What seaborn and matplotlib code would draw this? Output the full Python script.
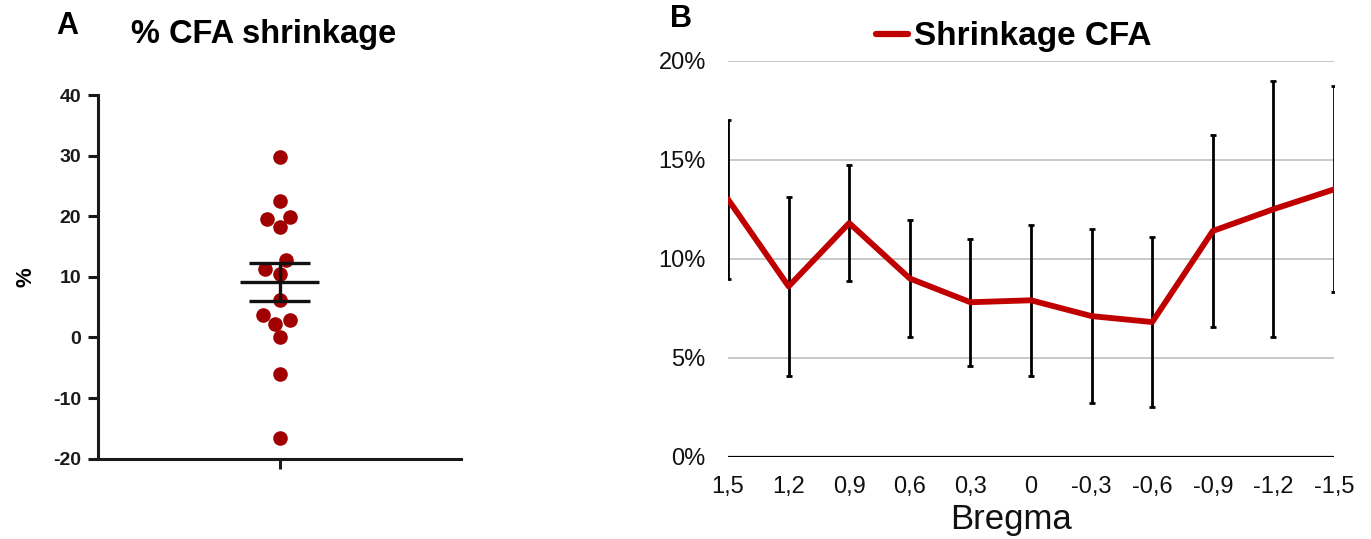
import numpy as np
import pandas as pd
import matplotlib
matplotlib.use("Agg")
import matplotlib.pyplot as plt
from matplotlib.lines import Line2D
from matplotlib.ticker import FuncFormatter
import seaborn as sns

# Panel A: per-animal CFA shrinkage (%)
shrinkage_values = [29.8, 22.5, 19.6, 19.9, 18.2, 12.7, 10.5, 11.3,
                    6.1, 2.8, 3.7, 2.3, 0.0, -6.0, -16.6]

# Panel B: shrinkage along the rostro-caudal axis
bregma_labels = ["1,5", "1,2", "0,9", "0,6", "0,3", "0",
                 "-0,3", "-0,6", "-0,9", "-1,2", "-1,5"]
shrinkage_mean = [13.0, 8.6, 11.8, 9.0, 7.8, 7.9, 7.1, 6.8, 11.4, 12.5, 13.5]
shrinkage_err = [4.0, 4.5, 2.95, 2.95, 3.2, 3.8, 4.4, 4.3, 4.85, 6.45, 5.2]

sns.set_theme(style="white")
plt.rcParams["font.family"] = ["Liberation Sans", "DejaVu Sans"]
plt.rcParams["axes.unicode_minus"] = False
for key in ("text.color", "axes.labelcolor", "xtick.color", "ytick.color"):
    plt.rcParams[key] = "black"

W, H = 1371, 539
fig = plt.figure(figsize=(W / 100, H / 100), dpi=100)
fig.patch.set_facecolor("white")

dot_color = "#a00000"
line_color = "#c00000"

# ---------------- Panel A ----------------
axA = fig.add_axes([98 / W, (H - 458.7) / H, (461 - 98) / W, (458.7 - 95) / H])
dfA = pd.DataFrame({"group": ["CFA"] * len(shrinkage_values),
                    "value": shrinkage_values})
sns.swarmplot(data=dfA, x="group", y="value", color=dot_color, size=10.5,
              linewidth=0, ax=axA, zorder=2)

vals = np.asarray(shrinkage_values)
mean_a = vals.mean()
sem_a = vals.std(ddof=1) / np.sqrt(len(vals))
axA.hlines(mean_a, -0.11, 0.11, color="#111111", lw=2.4, zorder=4)
axA.hlines([mean_a - sem_a, mean_a + sem_a], -0.083, 0.083,
           color="#111111", lw=2.4, zorder=4)
axA.vlines(0, mean_a - sem_a, mean_a + sem_a, color="#111111", lw=2.4, zorder=4)

axA.set_xlim(-0.5, 0.5)
axA.set_ylim(-20, 40)
axA.set_yticks(np.arange(-20, 41, 10))
axA.set_xticks([0])
axA.set_xticklabels([""])
axA.set_xlabel("")
axA.set_ylabel("%", fontsize=16, fontweight="bold", labelpad=12)
for side in ("top", "right"):
    axA.spines[side].set_visible(False)
for side in ("left", "bottom"):
    axA.spines[side].set_linewidth(2.2)
    axA.spines[side].set_color("#1a1a1a")
axA.tick_params(axis="both", length=7, width=2.2, color="#1a1a1a",
                direction="out", pad=5, left=True, bottom=True)
for lab in axA.get_yticklabels():
    lab.set_fontsize(14)
    lab.set_fontweight("bold")
    lab.set_color("#1a1a1a")
fig.text(264 / W, 1 - 34 / H, "% CFA shrinkage", fontsize=23.5,
         fontweight="bold", ha="center", va="center")
fig.text(67 / W, 1 - 26 / H, "A", fontsize=22, fontweight="bold",
         ha="center", va="center")

# ---------------- Panel B ----------------
axB = fig.add_axes([728 / W, (H - 456.7) / H, (1334 - 728) / W, (456.7 - 60.7) / H])
pos = np.arange(len(bregma_labels))
dfB = pd.DataFrame({"pos": pos, "mean": shrinkage_mean, "err": shrinkage_err})

axB.errorbar(dfB["pos"], dfB["mean"], yerr=dfB["err"], fmt="none",
             ecolor="black", elinewidth=2.0, capsize=2.2, capthick=2.0, zorder=3)
sns.lineplot(data=dfB, x="pos", y="mean", color=line_color, lw=4.2,
             ax=axB, zorder=4, legend=False)

axB.set_xlim(0, len(bregma_labels) - 1)
axB.set_ylim(0, 20)
axB.set_yticks([0, 5, 10, 15, 20])
axB.yaxis.set_major_formatter(FuncFormatter(lambda v, p: f"{v:.0f}%"))
axB.set_xticks(pos)
axB.set_xticklabels(bregma_labels)
axB.grid(axis="y", color="#bfbfbf", lw=1.2)
axB.grid(axis="x", visible=False)
axB.axhline(0, color="black", lw=1.6, zorder=2)
for side in ("top", "right", "left", "bottom"):
    axB.spines[side].set_visible(False)
axB.tick_params(axis="y", length=0, pad=16, labelsize=17, labelcolor="#111111")
axB.tick_params(axis="x", length=0, pad=14, labelsize=17, labelcolor="#111111")
axB.set_ylabel("")
axB.set_xlabel("Bregma", fontsize=25, color="#111111")
axB.xaxis.set_label_coords((1011 - 728) / 606, -(520 - 456.7) / 396)
axB.xaxis.label.set_va("center")

fig.text(681 / W, 1 - 19 / H, "B", fontsize=22, fontweight="bold",
         ha="center", va="center")

handle = Line2D([], [], color=line_color, lw=4.5)
fig.legend([handle], ["Shrinkage CFA"], loc="center",
           bbox_to_anchor=(1014 / W, 1 - 37 / H), frameon=False,
           prop={"size": 24, "weight": "bold"}, handlelength=0.95,
           handletextpad=0.2, borderaxespad=0, borderpad=0)

fig.savefig("out.png", dpi=100, facecolor="white")
